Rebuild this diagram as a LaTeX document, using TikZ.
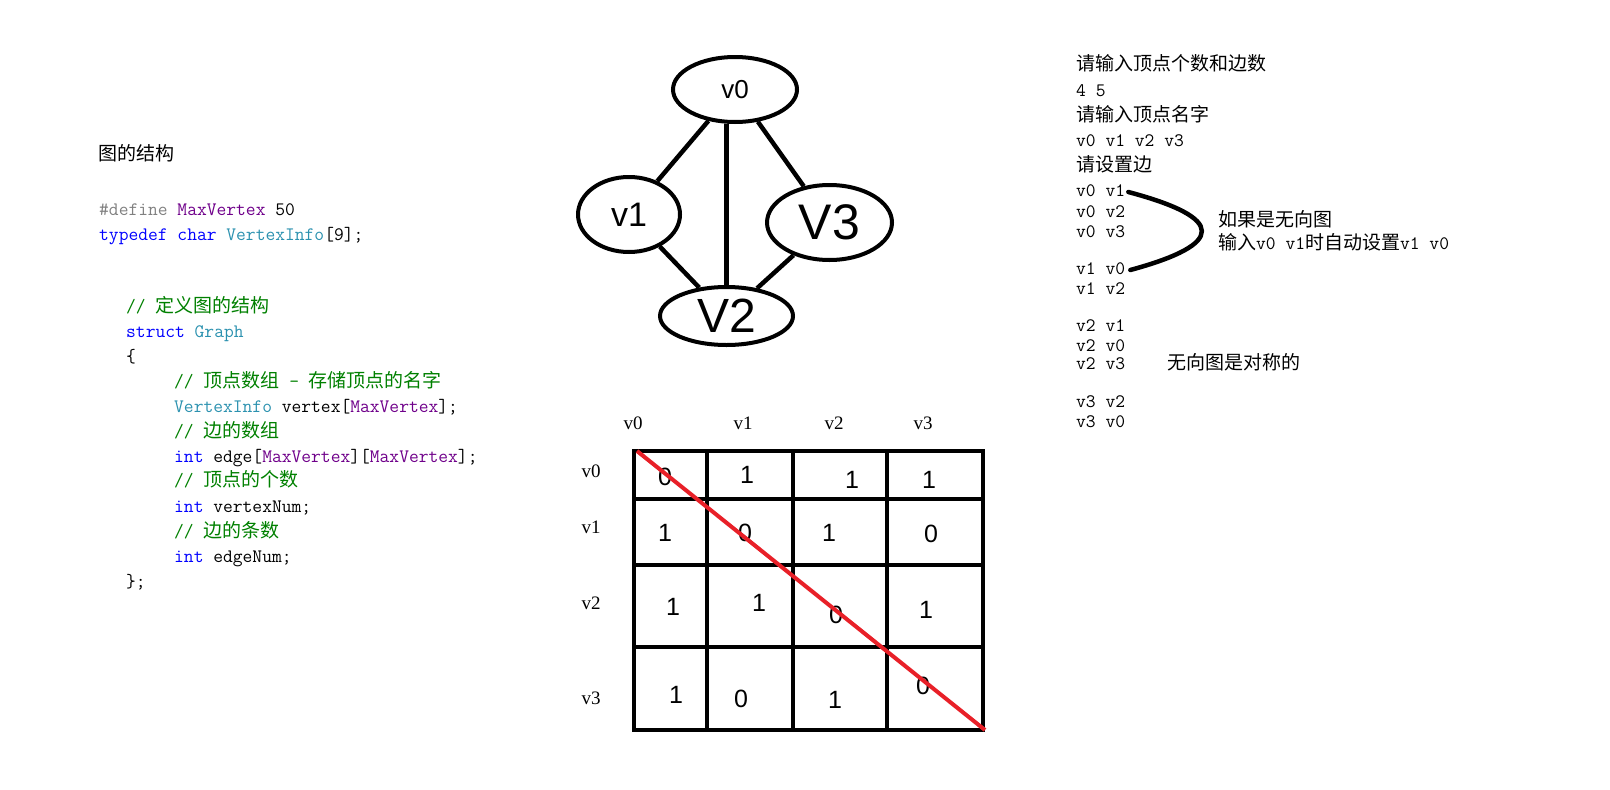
\documentclass[tikz,border=0pt]{standalone}
\usepackage{fontspec}
\usepackage{tikz}
\usetikzlibrary{shapes.geometric}
\newfontfamily\cjk{Noto Sans CJK SC}
\newfontfamily\hdrfont{Liberation Serif}
\newfontfamily\handfont{Liberation Sans}
\definecolor{kwblue}{RGB}{0,0,255}
\definecolor{tyteal}{RGB}{43,145,175}
\definecolor{macpurple}{RGB}{111,0,138}
\definecolor{cmtgreen}{RGB}{0,128,0}
\definecolor{pregray}{RGB}{128,128,128}
\definecolor{diagred}{RGB}{232,32,40}
\def\ckw#1{\textcolor{kwblue}{#1}}
\def\cty#1{\textcolor{tyteal}{#1}}
\def\cmac#1{\textcolor{macpurple}{#1}}
\def\ccmt#1{\textcolor{cmtgreen}{#1}}

\begin{document}
\begin{tikzpicture}[x=1pt, y=-1pt,
	code/.style={anchor=west, inner sep=0, text height=13pt, text depth=4pt, font=\fontsize{19}{23}\selectfont\ttfamily},
	vert/.style={ellipse, draw, line width=4pt, inner sep=0},
	edge/.style={line width=4.5pt},
	grid/.style={line width=4pt},
	hdr/.style={inner sep=0, font=\fontsize{19}{23}\selectfont\hdrfont},
	cell/.style={inner sep=0, font=\fontsize{25}{29}\selectfont\handfont}]
			%%%%% START %%%%%
			
			\useasboundingbox (0, 0) rectangle (1610, 790);
			
			% code on the left
			\node[code] (title) at (98, 156) {\cjk 图的结构};
			\node[code] (def) at (99, 211) {\textcolor{pregray}{\#define} \cmac{MaxVertex} 50};
			\node[code] (tdef) at (99, 236) {\ckw{typedef} \ckw{char} \cty{VertexInfo}[9];};
			
			\node[code] (cm1) at (126, 308) {\ccmt{// {\cjk 定义图的结构}}};
			\node[code] (st) at (126, 333) {\ckw{struct} \cty{Graph}};
			\node[code] (lb) at (126, 358) {\{};
			\node[code] (cm2) at (174, 383) {\ccmt{// {\cjk 顶点数组} - {\cjk 存储顶点的名字}}};
			\node[code] (vx) at (174, 408) {\cty{VertexInfo} vertex[\cmac{MaxVertex}];};
			\node[code] (cm3) at (174, 433) {\ccmt{// {\cjk 边的数组}}};
			\node[code] (ed) at (174, 458) {\ckw{int} edge[\cmac{MaxVertex}][\cmac{MaxVertex}];};
			\node[code] (cm4) at (174, 482) {\ccmt{// {\cjk 顶点的个数}}};
			\node[code] (vn) at (174, 508) {\ckw{int} vertexNum;};
			\node[code] (cm5) at (174, 533) {\ccmt{// {\cjk 边的条数}}};
			\node[code] (en) at (174, 558) {\ckw{int} edgeNum;};
			\node[code] (rb) at (126, 583) {\};};
			
			% the graph
			\node[vert, minimum width=124, minimum height=65, font=\handfont\fontsize{26}{30}\selectfont] (v0) at (735, 89.5) {v0};
			\node[vert, minimum width=102, minimum height=75, font=\handfont\fontsize{34}{38}\selectfont] (v1) at (629, 214.5) {v1};
			\node[vert, minimum width=125, minimum height=75, font=\handfont\fontsize{50}{54}\selectfont] (v3) at (829.5, 222.5) {V3};
			\node[vert, minimum width=133, minimum height=58, font=\handfont\fontsize{48}{52}\selectfont] (v2) at (726.5, 316) {V2};
			
			\draw[edge] (v0) -- (v1);
			\draw[edge] (v2.north) -- (v2.north |- v0.south);
			\draw[edge] (v0) -- (v3);
			\draw[edge] (v1) -- (v2);
			\draw[edge] (v3) -- (v2);
			
			% adjacency matrix
			\node[hdr] (hv0) at (633, 423) {v0};
			\node[hdr] (hv1) at (743, 423) {v1};
			\node[hdr] (hv2) at (834, 423) {v2};
			\node[hdr] (hv3) at (923, 423) {v3};
			\node[hdr] (rv0) at (591, 471) {v0};
			\node[hdr] (rv1) at (591, 527) {v1};
			\node[hdr] (rv2) at (591, 603) {v2};
			\node[hdr] (rv3) at (591, 698) {v3};
			
			\draw[grid] (634, 451) rectangle (983, 730);
			\draw[grid] (707, 451) -- (707, 730);
			\draw[grid] (793, 451) -- (793, 730);
			\draw[grid] (887, 451) -- (887, 730);
			\draw[grid] (634, 499) -- (983, 499);
			\draw[grid] (634, 565) -- (983, 565);
			\draw[grid] (634, 647) -- (983, 647);
			
			\node[cell] (m00) at (665, 477) {0};
			\node[cell] (m01) at (747, 475) {1};
			\node[cell] (m02) at (852, 480) {1};
			\node[cell] (m03) at (929, 480) {1};
			\node[cell] (m10) at (665, 533) {1};
			\node[cell] (m11) at (745, 533) {0};
			\node[cell] (m12) at (829, 533) {1};
			\node[cell] (m13) at (931, 534) {0};
			\node[cell] (m20) at (673, 607) {1};
			\node[cell] (m21) at (759, 603) {1};
			\node[cell] (m22) at (836, 615) {0};
			\node[cell] (m23) at (926, 610) {1};
			\node[cell] (m30) at (676, 695) {1};
			\node[cell] (m31) at (741, 699) {0};
			\node[cell] (m32) at (835, 700) {1};
			\node[cell] (m33) at (923, 686) {0};
			
			\draw[line width=4pt, color=diagred] (637, 451) -- (985, 730);
			
			% console output on the right
			\node[code] (o1) at (1076, 66) {\cjk 请输入顶点个数和边数};
			\node[code] (o2) at (1076, 92) {4 5};
			\node[code] (o3) at (1076, 117) {\cjk 请输入顶点名字};
			\node[code] (o4) at (1076, 142) {v0 v1 v2 v3};
			\node[code] (o5) at (1076, 167) {\cjk 请设置边};
			\node[code] (o6) at (1076, 192) {v0 v1};
			\node[code] (o7) at (1076, 213) {v0 v2};
			\node[code] (o8) at (1076, 233) {v0 v3};
			\node[code] (o9) at (1076, 270) {v1 v0};
			\node[code] (o10) at (1076, 290) {v1 v2};
			\node[code] (o11) at (1076, 327) {v2 v1};
			\node[code] (o12) at (1076, 347) {v2 v0};
			\node[code] (o13) at (1076, 365) {v2 v3};
			\node[code] (o14) at (1076, 403) {v3 v2};
			\node[code] (o15) at (1076, 423) {v3 v0};
			
			\node[code] (note1) at (1218, 222) {\cjk 如果是无向图};
			\node[code] (note2) at (1218, 245) {{\cjk 输入}v0 v1{\cjk 时自动设置}v1 v0};
			\node[code] (note3) at (1167, 365) {\cjk 无向图是对称的};
			
			\draw[line width=4.5pt, line cap=round] ([xshift=3]o6.east) .. controls (1226, 218) and (1226, 244) .. ([xshift=5]o9.east);
			
			%%%%% END %%%%%
\end{tikzpicture}
\end{document}
